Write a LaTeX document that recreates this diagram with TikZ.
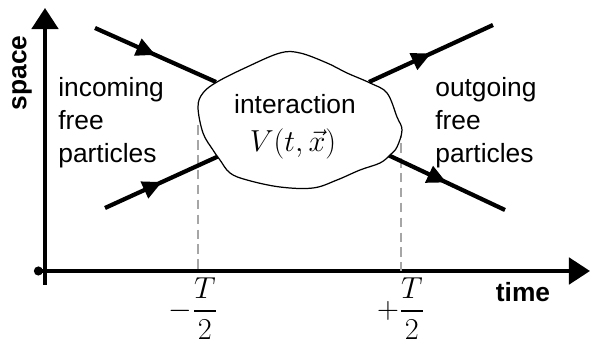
\documentclass[tikz,border=0pt]{standalone}
\usepackage{amsmath}
\usepackage{fontspec}
\setsansfont{Liberation Sans}
\usetikzlibrary{arrows.meta, decorations.markings, calc}

\begin{document}
\begin{tikzpicture}[
    axis/.style={line width=2.3pt, black},
    particle/.style={line width=2.4pt, black, postaction={decorate},
        decoration={markings, mark=at position 0.5 with {\arrow{Triangle[length=11pt, width=10pt]}}}},
    cut/.style={gray!70, line width=0.9pt, dash pattern=on 5.5pt off 3pt},
    blob/.style={draw, black, line width=0.7pt, fill=white},
    label/.style={font=\sffamily\fontsize{15}{18.7}\selectfont, align=left, inner sep=0pt},
    axislabel/.style={font=\sffamily\bfseries\fontsize{15}{18}\selectfont, inner sep=0pt},
    mathlabel/.style={font=\fontsize{17.5}{20}\selectfont, inner sep=0pt}]

    \useasboundingbox (-0.9,-1.52) rectangle (11.0,5.42);

    % Axes
    \coordinate (origin) at (0,0);
    \coordinate (ybot) at (0,-0.28);
    \coordinate (ytip) at (0,5.26);
    \coordinate (xleft) at (-0.22,0);
    \coordinate (xtip) at (10.9,0);
    \draw[axis, -{Triangle[length=12pt, width=15pt]}] (ybot) -- (ytip);
    \draw[axis, {Circle[length=5pt]}-{Triangle[length=12pt, width=15pt]}] (xleft) -- (xtip);
    \node[axislabel, rotate=90] (space) at (-0.46,3.96) {space};
    \node[axislabel] (time) at (9.56,-0.42) {time};

    % Time cuts
    \coordinate (tin) at (3.06,2.92);
    \coordinate (tout) at (7.12,2.86);
    \draw[cut] (tin) -- (tin |- origin);
    \draw[cut] (tout) -- (tout |- origin);
    \node[mathlabel, anchor=north] (minus) at ($(tin |- origin)+(-0.1,-0.12)$) {$\displaystyle -\frac{T}{2}$};
    \node[mathlabel, anchor=north] (plus) at ($(tout |- origin)+(0,-0.12)$) {$\displaystyle +\frac{T}{2}$};

    % Particle lines
    \coordinate (in1) at (1.0,4.86);
    \coordinate (in1b) at (3.42,3.78);
    \coordinate (in2) at (1.2,1.26);
    \coordinate (in2b) at (3.48,2.3);
    \coordinate (out1b) at (6.48,3.78);
    \coordinate (out1) at (8.96,4.92);
    \coordinate (out2b) at (6.86,2.32);
    \coordinate (out2) at (9.2,1.22);
    \draw[particle] (in1) -- (in1b);
    \draw[particle] (in2) -- (in2b);
    \draw[particle] (out1b) -- (out1);
    \draw[particle] (out2b) -- (out2);

    % Interaction region
    \draw[blob] plot[smooth cycle, tension=0.6] coordinates {
        (3.44,3.78) (4.04,4.08) (4.70,4.36) (5.10,4.36) (5.64,4.16) (6.04,3.96)
        (6.50,3.76) (6.84,3.56) (7.04,3.08) (7.14,2.82) (7.04,2.48) (6.90,2.32)
        (6.70,2.16) (6.30,2.02) (5.84,1.82) (5.36,1.66) (4.70,1.68) (4.04,1.82)
        (3.70,1.96) (3.50,2.22) (3.36,2.42) (3.16,2.76) (3.06,3.28) (3.16,3.56)};
    \node[label] (inter) at (5.0,3.34) {interaction};
    \node[mathlabel] (pot) at (4.96,2.54) {$V(t,\vec{x})$};

    % Free particles
    \node[label, anchor=west] (incoming) at (0.26,2.96) {incoming\\free\\particles};
    \node[label, anchor=west] (outgoing) at (7.8,2.96) {outgoing\\free\\particles};

\end{tikzpicture}
\end{document}
